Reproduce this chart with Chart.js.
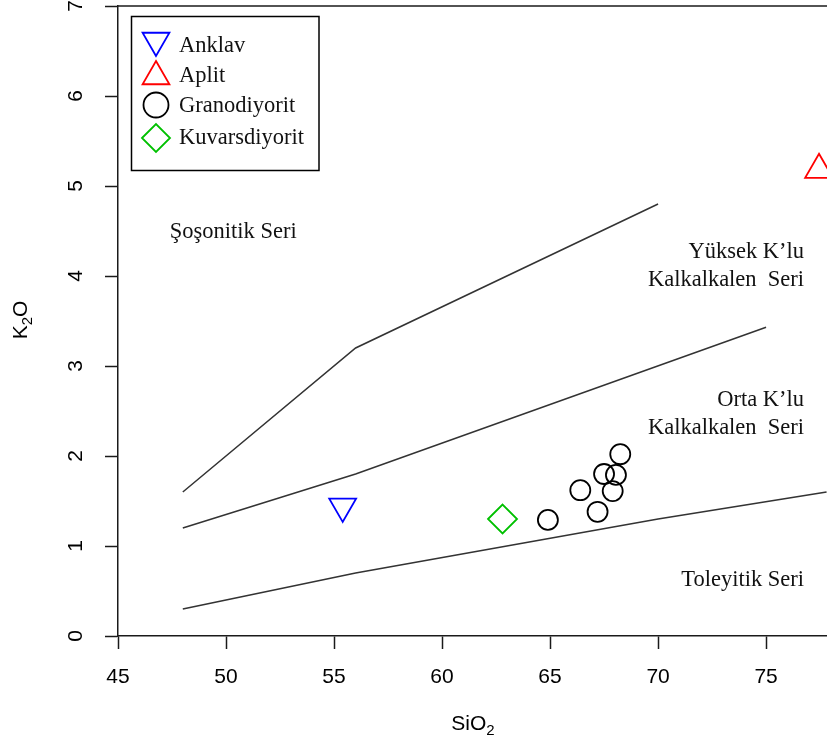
<!DOCTYPE html>
<html>
<head>
<meta charset="utf-8">
<script src="https://cdn.jsdelivr.net/npm/chart.js@4/dist/chart.umd.min.js"></script>
<style>
  html, body { margin: 0; padding: 0; background: #fff; }
  #wrap { width: 827px; height: 746px; position: relative; }
</style>
</head>
<body>
<div id="wrap"><canvas id="c" width="827" height="746"></canvas></div>
<script>
// ---- tick labels ----
const xTicks = [45, 50, 55, 60, 65, 70, 75];
const yTicks = [0, 1, 2, 3, 4, 5, 6, 7];

// ---- boundary lines (SiO2 vs K2O) ----
const shoshoniticX = [48, 56, 70];
const shoshoniticY = [1.6, 3.2, 4.8];
const highKX = [48, 56, 75];
const highKY = [1.2, 1.8, 3.43];
const tholeiiticX = [48, 56, 70, 77.8];
const tholeiiticY = [0.3, 0.7, 1.3, 1.6];

// ---- samples ----
const anklavX = [55.4];
const anklavY = [1.44];
const aplitX = [77.45];
const aplitY = [5.18];
const granoX = [64.9, 66.4, 67.2, 67.5, 68.05, 67.9, 68.25];
const granoY = [1.29, 1.62, 1.38, 1.80, 1.79, 1.61, 2.02];
const kuvX = [62.8];
const kuvY = [1.3];

// ---- series names / region names ----
const seriesNames = ['Anklav', 'Aplit', 'Granodiyorit', 'Kuvarsdiyorit'];
const regionNames = ['Şoşonitik Seri', 'Yüksek K’lu', 'Kalkalkalen  Seri', 'Orta K’lu', 'Kalkalkalen  Seri', 'Toleyitik Seri'];

const zip = (xs, ys) => xs.map((x, i) => ({ x: x, y: ys[i] }));

const SANS = '"Liberation Sans", Arial, sans-serif';
const SERIF = '"Liberation Serif", "Times New Roman", serif';
const LINE = '#333333';
const AXIS = '#1a1a1a';

function lineDs(xs, ys) {
  return {
    data: zip(xs, ys), showLine: true, borderColor: LINE, borderWidth: 1.5,
    pointRadius: 0, pointHoverRadius: 0, fill: false, tension: 0
  };
}
function ptDs(label, xs, ys, style, color, radius, rotation) {
  return {
    label: label, data: zip(xs, ys), showLine: false,
    pointStyle: style, pointRadius: radius, pointHoverRadius: radius,
    pointRotation: rotation || 0,
    pointBorderColor: color, borderColor: color,
    pointBackgroundColor: 'rgba(0,0,0,0)', backgroundColor: 'rgba(0,0,0,0)',
    pointBorderWidth: 1.8, clip: false
  };
}

const datasets = [
  lineDs(shoshoniticX, shoshoniticY),
  lineDs(highKX, highKY),
  lineDs(tholeiiticX, tholeiiticY),
  ptDs(seriesNames[0], anklavX, anklavY, 'triangle', '#0000ff', 15.5, 180),
  ptDs(seriesNames[1], aplitX, aplitY, 'triangle', '#ff0000', 16, 0),
  ptDs(seriesNames[2], granoX, granoY, 'circle', '#000000', 10, 0),
  ptDs(seriesNames[3], kuvX, kuvY, 'rectRot', '#00c000', 14.5, 0)
];

const legendStyles = [
  { style: 'triangle', color: '#0000ff', r: 15.5, rot: 180, my: 40.5, ty: 52 },
  { style: 'triangle', color: '#ff0000', r: 15.5, rot: 0, my: 76.5, ty: 81.5 },
  { style: 'circle', color: '#000000', r: 12.5, rot: 0, my: 105, ty: 111.5 },
  { style: 'rectRot', color: '#00c000', r: 14, rot: 0, my: 138, ty: 144 }
];

const decor = {
  id: 'decor',
  afterDraw(chart) {
    const ctx = chart.ctx;
    const xs = chart.scales.x, ys = chart.scales.y;
    const ca = chart.chartArea;
    ctx.save();
    // top border of the box
    ctx.strokeStyle = AXIS; ctx.lineWidth = 1.5;
    ctx.beginPath(); ctx.moveTo(ca.left, ca.top); ctx.lineTo(chart.width, ca.top); ctx.stroke();

    // y tick labels, rotated
    ctx.fillStyle = '#000';
    ctx.font = '21px ' + SANS;
    ctx.textAlign = 'center'; ctx.textBaseline = 'middle';
    yTicks.forEach(v => {
      const py = ys.getPixelForValue(v);
      ctx.save(); ctx.translate(76, py); ctx.rotate(-Math.PI / 2);
      ctx.fillText(String(v), 0, 0); ctx.restore();
    });

    // axis titles with subscripts
    function subTitle(parts, cx, cy, rotate) {
      ctx.save();
      ctx.translate(cx, cy);
      if (rotate) ctx.rotate(-Math.PI / 2);
      ctx.textAlign = 'left'; ctx.textBaseline = 'alphabetic';
      let total = 0;
      parts.forEach(p => { ctx.font = (p.sub ? '15px ' : '21px ') + SANS; total += ctx.measureText(p.t).width; });
      let x = -total / 2;
      parts.forEach(p => {
        ctx.font = (p.sub ? '15px ' : '21px ') + SANS;
        ctx.fillText(p.t, x, p.sub ? 5 : 0);
        x += ctx.measureText(p.t).width;
      });
      ctx.restore();
    }
    subTitle([{ t: 'SiO' }, { t: '2', sub: true }], 473, 730, false);
    subTitle([{ t: 'K' }, { t: '2', sub: true }, { t: 'O' }], 27, 320, true);

    // region labels
    ctx.fillStyle = '#111';
    ctx.font = '22.5px ' + SERIF;
    ctx.textBaseline = 'alphabetic';
    ctx.textAlign = 'left';
    ctx.fillText(regionNames[0], xs.getPixelForValue(47.4), ys.getPixelForValue(4.42));
    ctx.textAlign = 'right';
    const rx = xs.getPixelForValue(76.76);
    ctx.fillText(regionNames[1], rx, ys.getPixelForValue(4.2));
    ctx.fillText(regionNames[2], rx, ys.getPixelForValue(3.89));
    ctx.fillText(regionNames[3], rx, ys.getPixelForValue(2.56));
    ctx.fillText(regionNames[4], rx, ys.getPixelForValue(2.24));
    ctx.fillText(regionNames[5], rx, ys.getPixelForValue(0.56));

    // legend
    ctx.fillStyle = '#fff';
    ctx.fillRect(131.5, 16.5, 187.5, 154);
    ctx.strokeStyle = '#000'; ctx.lineWidth = 1.5;
    ctx.strokeRect(131.5, 16.5, 187.5, 154);
    legendStyles.forEach((s, i) => {
      ctx.save();
      ctx.strokeStyle = s.color; ctx.fillStyle = 'rgba(0,0,0,0)'; ctx.lineWidth = 1.8;
      Chart.helpers.drawPoint(ctx, { pointStyle: s.style, radius: s.r, rotation: s.rot, borderWidth: 1.8 }, 156, s.my);
      ctx.restore();
      ctx.fillStyle = '#111';
      ctx.font = '22.5px ' + SERIF;
      ctx.textAlign = 'left'; ctx.textBaseline = 'alphabetic';
      ctx.fillText(seriesNames[i], 179, s.ty);
    });
    ctx.restore();
  }
};

new Chart(document.getElementById('c'), {
  type: 'scatter',
  data: { datasets: datasets },
  options: {
    responsive: false,
    devicePixelRatio: 1,
    animation: false,
    layout: { padding: { top: 6, right: 0, left: 0, bottom: 0 }, autoPadding: false },
    plugins: { legend: { display: false }, tooltip: { enabled: false } },
    scales: {
      x: {
        type: 'linear', min: 45, max: 77.82,
        afterBuildTicks: s => { s.ticks = xTicks.map(v => ({ value: v })); },
        afterFit: s => { s.height = 110; s.paddingLeft = 0; s.paddingRight = 0; s.paddingTop = 0; s.paddingBottom = 0; },
        grid: { drawOnChartArea: false, drawTicks: true, tickLength: 13, tickColor: AXIS, tickWidth: 1.5 },
        border: { display: true, color: AXIS, width: 1.5 },
        ticks: { font: { family: SANS, size: 21 }, color: '#000', padding: 16, maxRotation: 0, autoSkip: false }
      },
      y: {
        type: 'linear', min: 0, max: 7,
        afterBuildTicks: s => { s.ticks = yTicks.map(v => ({ value: v })); },
        afterFit: s => { s.width = 118; s.paddingLeft = 0; s.paddingRight = 0; s.paddingTop = 0; s.paddingBottom = 0; },
        grid: { drawOnChartArea: false, drawTicks: true, tickLength: 13, tickColor: AXIS, tickWidth: 1.5 },
        border: { display: true, color: AXIS, width: 1.5 },
        ticks: { font: { size: 1 }, color: 'rgba(0,0,0,0)', padding: 0 }
      }
    }
  },
  plugins: [decor]
});
</script>
</body>
</html>
